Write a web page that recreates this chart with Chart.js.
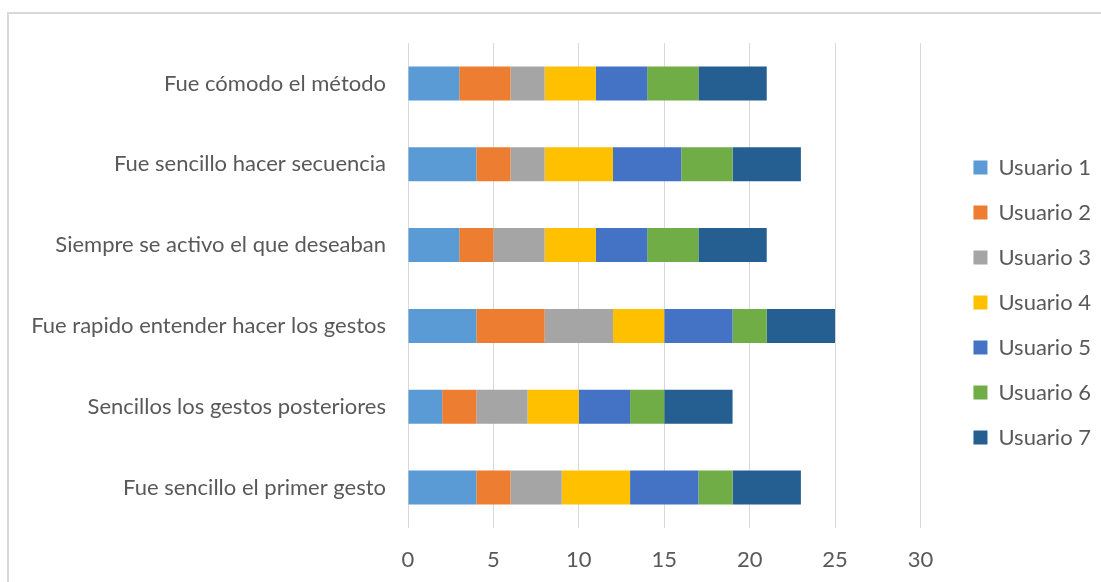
<!DOCTYPE html>
<html>
<head>
<meta charset="utf-8">
<script src="https://cdn.jsdelivr.net/npm/chart.js@4.4.1/dist/chart.umd.min.js"></script>
<style>
  html, body { margin: 0; padding: 0; background: #ffffff; }
  #wrap { position: relative; width: 1101px; height: 582px; overflow: hidden; }
  #frame { position: absolute; left: 7px; top: 12px; width: 1200px; height: 700px; border: 2px solid #d9d9d9; box-sizing: border-box; pointer-events: none; }
  canvas { position: absolute; left: 0; top: 0; }
</style>
</head>
<body>
<div id="wrap">
  <div id="frame"></div>
  <canvas id="c" width="1101" height="582"></canvas>
</div>
<script>
const categories = [
  'Fue cómodo el método',
  'Fue sencillo hacer secuencia',
  'Siempre se activo el que deseaban',
  'Fue rapido entender hacer los gestos',
  'Sencillos los gestos posteriores',
  'Fue sencillo el primer gesto'
];
const seriesNames = ['Usuario 1','Usuario 2','Usuario 3','Usuario 4','Usuario 5','Usuario 6','Usuario 7'];
const usuario1 = [3, 4, 3, 4, 2, 4];
const usuario2 = [3, 2, 2, 4, 2, 2];
const usuario3 = [2, 2, 3, 4, 3, 3];
const usuario4 = [3, 4, 3, 3, 3, 4];
const usuario5 = [3, 4, 3, 4, 3, 4];
const usuario6 = [3, 3, 3, 2, 2, 2];
const usuario7 = [4, 4, 4, 4, 4, 4];
const xTicks = [0, 5, 10, 15, 20, 25, 30];

const colors = ['#5B9BD5','#ED7D31','#A5A5A5','#FFC000','#4472C4','#70AD47','#255E91'];
const seriesValues = [usuario1, usuario2, usuario3, usuario4, usuario5, usuario6, usuario7];

const FONT = 'Lato';
const FS = 22;
const TXT = '#595959';

// legend width estimate to place the plot's right edge
const mctx = document.createElement('canvas').getContext('2d');
mctx.font = FS + 'px ' + FONT;
let tw = 0;
seriesNames.forEach(n => { tw = Math.max(tw, mctx.measureText(n).width); });
const legendPad = 23, boxW = 14, gapW = 30;
const legendW = legendPad + boxW + FS / 2 + tw + 10;
const padRight = Math.max(0, 1101 - 922 - gapW - legendW);

const datasets = seriesNames.map((name, i) => ({
  label: name,
  data: seriesValues[i],
  backgroundColor: colors[i],
  borderWidth: 0,
  barPercentage: 0.42,
  categoryPercentage: 1.0
}));

new Chart(document.getElementById('c'), {
  type: 'bar',
  data: { labels: categories, datasets },
  options: {
    indexAxis: 'y',
    responsive: false,
    animation: false,
    layout: { padding: { top: 23, bottom: 0, left: 0, right: padRight } },
    scales: {
      x: {
        stacked: true,
        min: 0, max: 30,
        afterBuildTicks: (s) => { s.ticks = xTicks.map(v => ({ value: v })); },
        grid: { color: '#d9d9d9', lineWidth: 1, drawTicks: false },
        border: { display: false },
        ticks: { color: TXT, font: { family: FONT, size: FS }, padding: 19 },
        afterFit: (s) => { s.height = 54; }
      },
      y: {
        stacked: true,
        grid: { display: false, drawTicks: false },
        border: { display: false },
        ticks: { color: TXT, font: { family: FONT, size: FS }, padding: 22 },
        afterFit: (s) => { s.width = 408; }
      },
      yPad: {
        type: 'linear',
        position: 'right',
        display: true,
        grid: { display: false, drawTicks: false },
        border: { display: false },
        ticks: { display: false },
        afterFit: (s) => { s.width = gapW; }
      }
    },
    plugins: {
      title: { display: true, text: ' ', fullSize: false, font: { size: 10 }, padding: { top: 0, bottom: 8 } },
      tooltip: { enabled: false },
      legend: {
        position: 'right',
        align: 'center',
        labels: {
          boxWidth: boxW,
          boxHeight: 14,
          padding: legendPad,
          color: TXT,
          font: { family: FONT, size: FS }
        }
      }
    }
  }
});
</script>
</body>
</html>
